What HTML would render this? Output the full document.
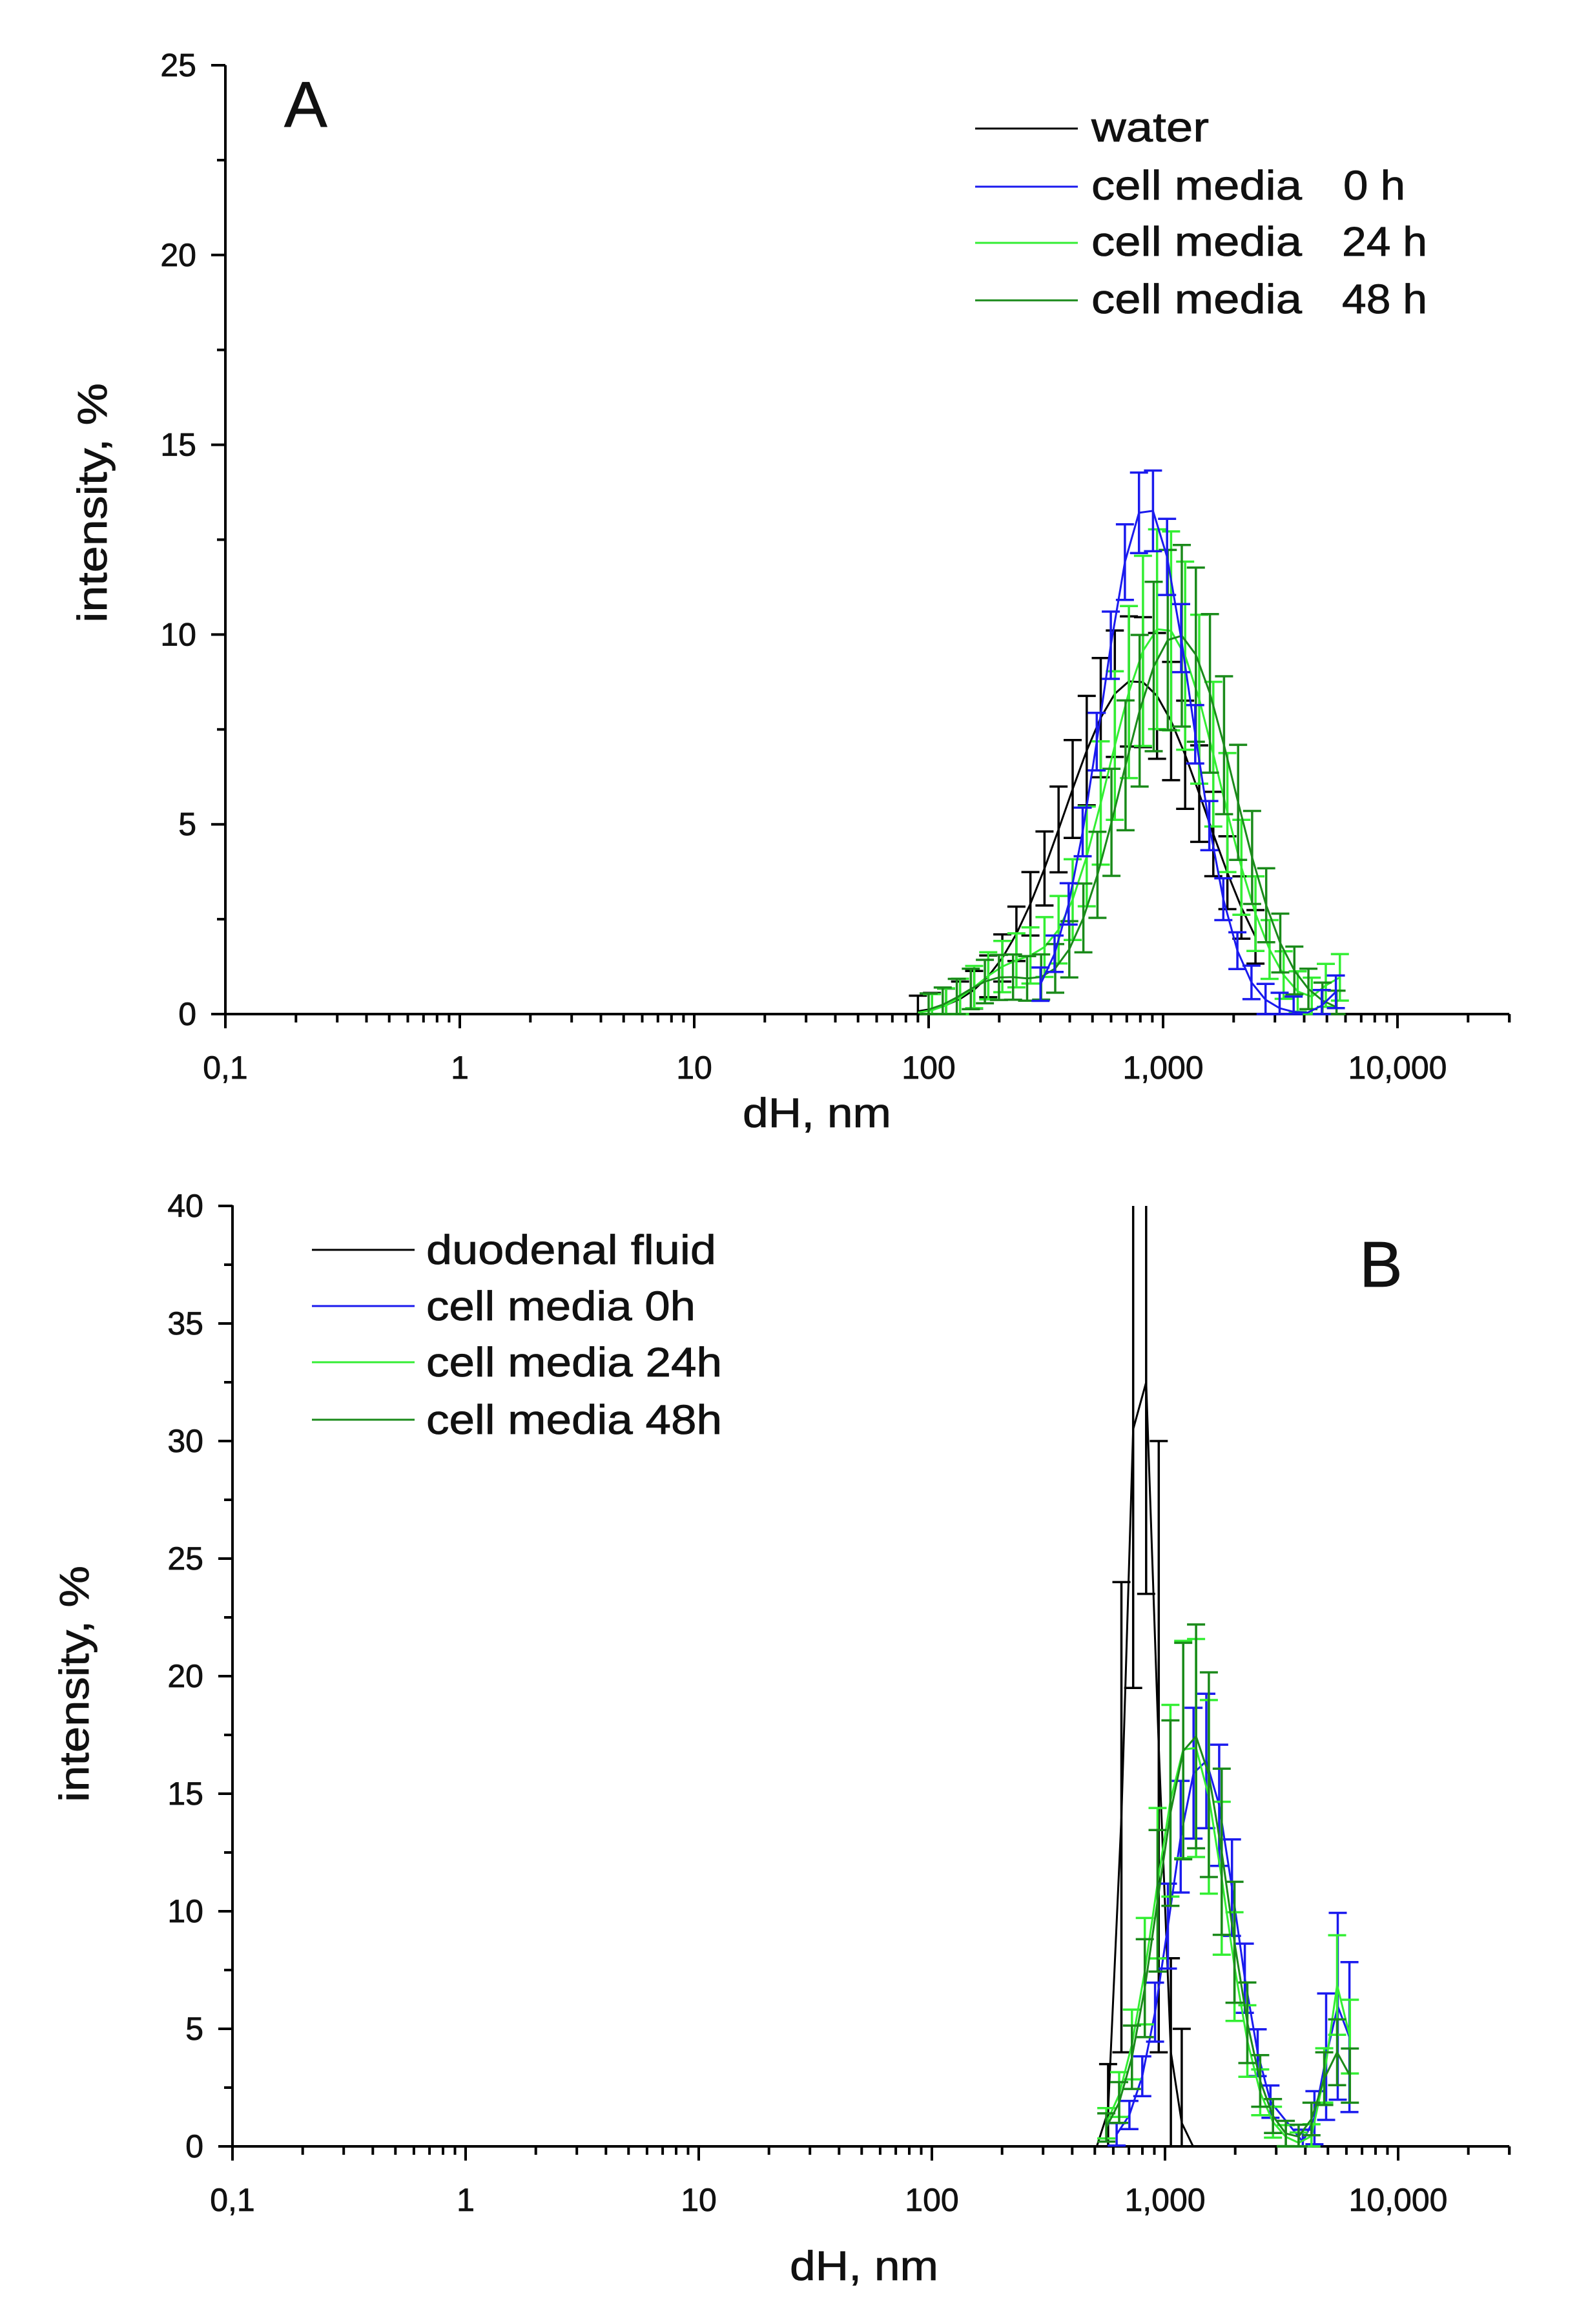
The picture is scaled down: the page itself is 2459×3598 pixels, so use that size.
<!DOCTYPE html>
<html><head><meta charset="utf-8">
<style>
html,body{margin:0;padding:0;background:#fff;}
svg{display:block;}
text{font-family:"Liberation Sans",sans-serif;fill:#111;stroke:#111;stroke-width:0.8;}
</style></head>
<body>
<svg id="s" width="2459" height="3598" viewBox="0 0 2459 3598" xmlns="http://www.w3.org/2000/svg">
<rect width="2459" height="3598" fill="#fff"/>
<g id="g"></g>
<!-- Panel A text -->
<text x="440" y="196" font-size="100">A</text>
<g font-size="64">
<text x="1690" y="219" textLength="182" lengthAdjust="spacingAndGlyphs">water</text>
<text x="1690" y="309" textLength="326" lengthAdjust="spacingAndGlyphs">cell media</text><text x="2080" y="309" textLength="96" lengthAdjust="spacingAndGlyphs">0 h</text>
<text x="1690" y="396" textLength="326" lengthAdjust="spacingAndGlyphs">cell media</text><text x="2078" y="396" textLength="132" lengthAdjust="spacingAndGlyphs">24 h</text>
<text x="1690" y="485" textLength="326" lengthAdjust="spacingAndGlyphs">cell media</text><text x="2078" y="485" textLength="132" lengthAdjust="spacingAndGlyphs">48 h</text>
</g>
<line x1="1510" y1="199" x2="1669" y2="199" stroke="#000" stroke-width="3"/>
<line x1="1510" y1="289" x2="1669" y2="289" stroke="#1a1aee" stroke-width="3"/>
<line x1="1510" y1="376" x2="1669" y2="376" stroke="#33ee33" stroke-width="3"/>
<line x1="1510" y1="465" x2="1669" y2="465" stroke="#1a8a1a" stroke-width="3"/>
<text x="1150" y="1745" font-size="64" textLength="230" lengthAdjust="spacingAndGlyphs">dH, nm</text>
<text transform="translate(165,964) rotate(-90)" font-size="64" textLength="371" lengthAdjust="spacingAndGlyphs">intensity, %</text>
<!-- Panel B text -->
<text x="2105" y="1992" font-size="100">B</text>
<g font-size="64">
<text x="660" y="1957" textLength="449" lengthAdjust="spacingAndGlyphs">duodenal fluid</text>
<text x="660" y="2044" textLength="417" lengthAdjust="spacingAndGlyphs">cell media 0h</text>
<text x="660" y="2131" textLength="458" lengthAdjust="spacingAndGlyphs">cell media 24h</text>
<text x="660" y="2220" textLength="458" lengthAdjust="spacingAndGlyphs">cell media 48h</text>
</g>
<line x1="483" y1="1935" x2="642" y2="1935" stroke="#000" stroke-width="3"/>
<line x1="483" y1="2022" x2="642" y2="2022" stroke="#1a1aee" stroke-width="3"/>
<line x1="483" y1="2109" x2="642" y2="2109" stroke="#33ee33" stroke-width="3"/>
<line x1="483" y1="2198" x2="642" y2="2198" stroke="#1a8a1a" stroke-width="3"/>
<text x="1223" y="3530" font-size="64" textLength="230" lengthAdjust="spacingAndGlyphs">dH, nm</text>
<text transform="translate(137,2790) rotate(-90)" font-size="64" textLength="366" lengthAdjust="spacingAndGlyphs">intensity, %</text>
</svg>
<script>
var g=document.getElementById('g');var out='';
function L(x1,y1,x2,y2,c,w){out+='<line x1="'+x1.toFixed(1)+'" y1="'+y1.toFixed(1)+'" x2="'+x2.toFixed(1)+'" y2="'+y2.toFixed(1)+'" stroke="'+c+'" stroke-width="'+w+'"/>';}
function T(x,y,s,a){out+='<text x="'+x+'" y="'+y+'" font-size="50" text-anchor="'+a+'">'+s+'</text>';}
function axes(P){
 var xr=P.x0+Math.log10(30000/0.1)*P.dec;
 L(P.x0,P.y0,xr,P.y0,'#000',4);L(P.x0,P.y0,P.x0,P.top,'#000',4);
 var labs=['0,1','1','10','100','1,000','10,000'];
 for(var d=-1;d<=4;d++){for(var m=1;m<10;m++){var v=m*Math.pow(10,d);if(v>30000)break;
  var x=P.x0+Math.log10(v/0.1)*P.dec;L(x,P.y0,x,P.y0+(m==1?22:13),'#000',4);}
  T(P.x0+(d+1)*P.dec,P.y0+100,labs[d+1],'middle');}
 L(xr,P.y0,xr,P.y0+13,'#000',4);
 for(var v=0;v<=P.ymax;v+=P.minor){var y=P.y0-v*P.u;var maj=Math.abs(v/5-Math.round(v/5))<1e-6;
  L(P.x0,y,P.x0-(maj?22:13),y,'#000',4);if(maj)T(P.x0-45,y+17,''+v,'end');}
}
function X(P,v){return P.x0+Math.log10(v/0.1)*P.dec;}
function Y(P,v){return P.y0-Math.min(v,P.ymax)*P.u;}
function series(P,pts,c){
 var d='';pts.forEach(function(p,i){d+=(i?'L':'M')+X(P,p[0]).toFixed(1)+' '+Y(P,p[1]).toFixed(1);});
 out+='<path d="'+d+'" fill="none" stroke="'+c+'" stroke-width="3"/>';
 pts.forEach(function(p){var x=X(P,p[0]);if(p[2]>0.05){var yl=Y(P,Math.max(0,p[1]-p[2])),yh=Y(P,p[1]+p[2]);
  L(x,yl,x,yh,c,3.5);if(p[1]+p[2]<P.ymax)L(x-14,yh,x+14,yh,c,3.5);L(x-14,yl,x+14,yl,c,3.5);}});
}
function gauss(a,mu,s,lo,hi,step,err,extra){var r=[];for(var l=Math.log10(lo);l<=Math.log10(hi)+1e-9;l+=step){
 var v=a*Math.exp(-Math.pow((l-Math.log10(mu))/s,2)/2);if(extra)v+=extra(l);r.push([Math.pow(10,l),v,v*err+ (v>0.05?0.4:0)]);}return r;}
function bump(a,mu,s){return function(l){return a*Math.exp(-Math.pow((l-Math.log10(mu))/s,2)/2);};}
var A={x0:349,dec:363,y0:1570,top:101,ymax:25,u:58.76,minor:2.5};
axes(A);
series(A,gauss(8.8,760,0.3,90,2800,0.06,0.15),'#000');
series(A,gauss(10.2,1000,0.24,90,6200,0.06,0.22,function(l){return bump(1.1,220,0.15)(l)+bump(0.9,5600,0.06)(l);}),'#33ee33');
series(A,gauss(10,1150,0.24,100,6200,0.06,0.2,function(l){return bump(0.9,200,0.15)(l);}),'#1a8a1a');
series(A,gauss(13.4,850,0.19,300,6200,0.06,0.05,function(l){return bump(0.6,5600,0.05)(l);}),'#1a1aee');
var B={x0:360,dec:361,y0:3323,top:1866,ymax:40,u:36.4,minor:2.5};
axes(B);
series(B,[[510,0,0],[570,1.5,2],[650,14,10],[730,30.5,11],[830,32.5,9],[940,17,13],[1060,4,4],[1180,1,4],[1320,0,0]],'#000');
series(B,gauss(16.5,1450,0.14,620,3200,0.055,0.15,function(l){return bump(6,5600,0.05)(l);}).concat(gauss(6,5600,0.06,3900,6400,0.05,0.6)).sort(function(a,b){return a[0]-b[0];}),'#1a1aee');
series(B,gauss(17.2,1280,0.15,560,6400,0.055,0.25,function(l){return bump(7,5600,0.05)(l);}),'#33ee33');
series(B,gauss(17.5,1320,0.15,560,6400,0.055,0.25,function(l){return bump(4,5500,0.07)(l);}),'#1a8a1a');
g.innerHTML=out;
</script>
</body></html>
